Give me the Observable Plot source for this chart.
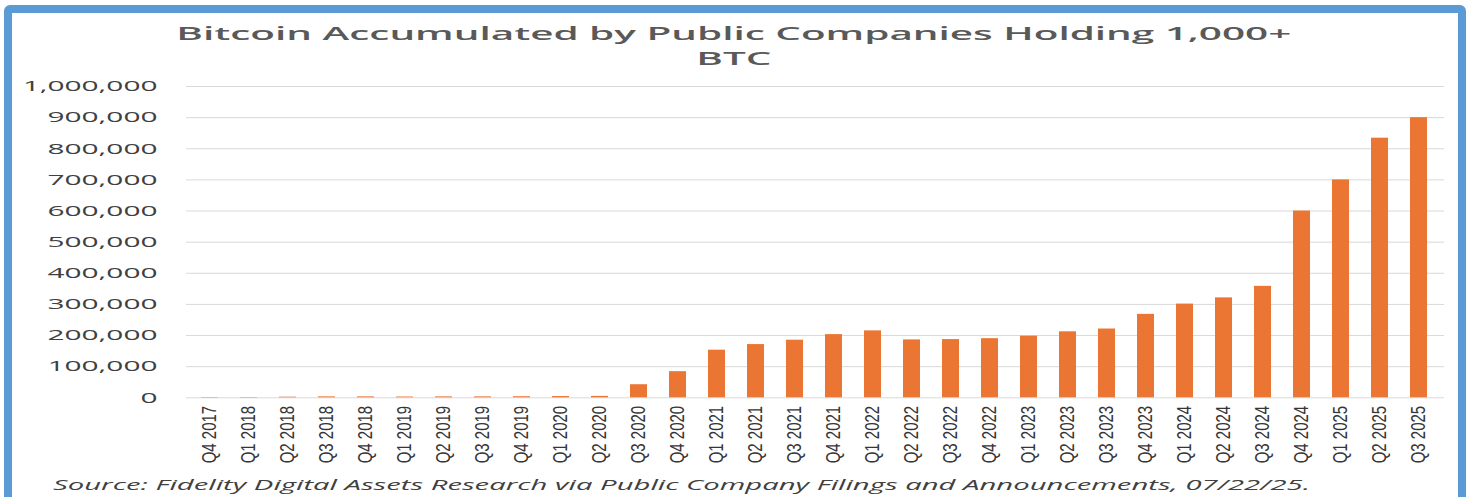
<!DOCTYPE html>
<html>
<head>
<meta charset="utf-8">
<script src="https://cdn.jsdelivr.net/npm/d3@7"></script>
<script src="https://cdn.jsdelivr.net/npm/@observablehq/plot@0.6"></script>
<style>
  html, body { margin: 0; padding: 0; background: #ffffff; }
  body { width: 1469px; height: 497px; position: relative; overflow: hidden; }
  #frame { position: absolute; left: 4px; top: 5px; width: 1462px; height: 500px; box-sizing: border-box;
           border: 8px solid #5B9BD5; border-radius: 6px; }
  #title { position: absolute; left: 0; top: 21px; width: 1469px; text-align: center;
           font-family: "Open Sans", sans-serif; font-weight: 600; font-size: 18px; line-height: 25px;
           color: #595959; transform-origin: 735px 0; white-space: nowrap; }
  #title span { display: inline-block; }
  #chart { position: absolute; left: 0; top: 72px; }
  #caption { position: absolute; left: 53px; top: 472px; font-family: "Open Sans", sans-serif; font-style: italic;
             font-size: 15px; line-height: 24px; color: #404040; white-space: nowrap; transform-origin: 0 0; }
</style>
</head>
<body>
<div id="frame"></div>
<div id="title"><span id="t1">Bitcoin Accumulated by Public Companies Holding 1,000+</span><br><span>BTC</span></div>
<div id="chart"></div>
<div id="caption"><span id="cap">Source: Fidelity Digital Assets Research via Public Company Filings and Announcements, 07/22/25.</span></div>
<script>
const quarters = ["Q4 2017","Q1 2018","Q2 2018","Q3 2018","Q4 2018","Q1 2019","Q2 2019","Q3 2019","Q4 2019",
  "Q1 2020","Q2 2020","Q3 2020","Q4 2020","Q1 2021","Q2 2021","Q3 2021","Q4 2021","Q1 2022","Q2 2022",
  "Q3 2022","Q4 2022","Q1 2023","Q2 2023","Q3 2023","Q4 2023","Q1 2024","Q2 2024","Q3 2024","Q4 2024",
  "Q1 2025","Q2 2025","Q3 2025"];
const btcHeld = [1000,1000,2000,3000,3000,2500,3000,3000,3500,
  4000,4500,42000,84000,153000,171000,185000,203000,215000,186000,
  187000,190000,198000,212000,221000,268000,301000,321000,358000,600000,
  700000,834000,900000];
const yTicks = [0,100000,200000,300000,400000,500000,600000,700000,800000,900000,1000000];

const data = quarters.map((q, i) => ({q, v: btcHeld[i]}));
const fmt = d3.format(",");

const plot = Plot.plot({
  width: 1469,
  height: 398,
  marginTop: 14,
  marginBottom: 72.7,
  marginLeft: 186,
  marginRight: 25,
  style: {background: "transparent", color: "#404040"},
  x: {domain: quarters, paddingInner: 0.57, paddingOuter: 0.285, insetLeft: 3, insetRight: 6},
  y: {domain: [0, 1000000]},
  marks: [
    Plot.gridY(yTicks, {stroke: "#d9d9d9", strokeOpacity: 1, strokeWidth: 1}),
    Plot.barY(data, {x: "q", y: "v", fill: "#EB7634"}),
    Plot.axisY(yTicks, {tickSize: 0, tickPadding: 29, tickFormat: fmt, label: null,
      fontSize: 15, fontFamily: "Open Sans", fill: "#404040"}),
    Plot.axisX({tickRotate: -90, tickSize: 0, tickPadding: 8, label: null,
      fontSize: 15, fontFamily: "Liberation Sans", fill: "#363636"})
  ]
});
document.getElementById("chart").appendChild(plot);

// the reference image is stretched horizontally: mimic it on the texts
const t1 = document.getElementById("t1");
const titleScale = 1115 / t1.getBoundingClientRect().width;
document.getElementById("title").style.transform = `scaleX(${titleScale})`;

const cap = document.getElementById("cap");
const capScale = 1257 / cap.getBoundingClientRect().width;
document.getElementById("caption").style.transform = `scaleX(${capScale})`;

const yLabels = plot.querySelectorAll('g[aria-label="y-axis tick label"] text');
let maxLen = 0;
yLabels.forEach(t => { maxLen = Math.max(maxLen, t.getComputedTextLength()); });
const yScaleK = 135 / maxLen;
yLabels.forEach(t => {
  const b = t.getBBox();
  const xr = b.x + b.width;
  const cur = t.getAttribute("transform") || "";
  t.setAttribute("transform", `${cur} translate(${xr},0) scale(${yScaleK},1) translate(${-xr},0)`);
});

const xLabels = plot.querySelectorAll('g[aria-label="x-axis tick label"] text');
xLabels.forEach(t => {
  const cur = t.getAttribute("transform") || "";
  t.setAttribute("transform", `${cur} scale(1,1.3)`);
});
</script>
</body>
</html>
